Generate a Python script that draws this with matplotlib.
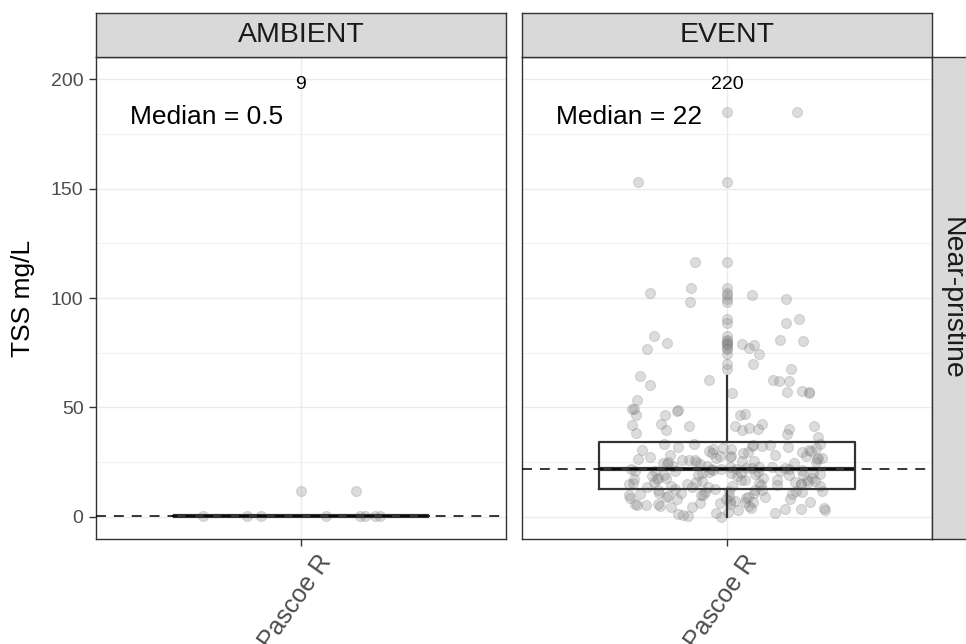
import numpy as np
import matplotlib

matplotlib.use("Agg")
import matplotlib.pyplot as plt
import matplotlib.transforms as mtransforms

plt.rcParams["font.family"] = ["Liberation Sans", "DejaVu Sans"]

facets = ["AMBIENT", "EVENT"]
site = "Pascoe R"
row_label = "Near-pristine"
y_label = "TSS mg/L"

ambient_tss = [0.5, 0.5, 12.0, 0.5, 0.5, 0.5, 0.5, 0.5, 0.5]

event_tss = [
    # lowest quarter
    0, 0.5, 1, 1.5, 2, 2.5, 3, 3, 3.5, 4,
    4, 4.5, 5, 5, 5.5, 6, 6, 6.5, 7, 7,
    7.5, 8, 8, 8.5, 9, 9, 9.5, 10, 10, 10.5,
    11, 11, 11.5, 12, 12, 12.5, 2, 5.5, 7.5, 9.5,
    3.5, 6.5, 8.5, 10.5, 11.5, 4.5, 6, 8, 10, 12,
    7, 9, 11, 12.5, 12.5,
    # second quarter
    13, 13, 13.5, 13.5, 14, 14, 14.5, 15, 15, 15.5,
    16, 16, 16.5, 17, 17, 17.5, 18, 18, 18.5, 19,
    19, 19.5, 20, 20, 20.5, 21, 21, 21.5, 22, 22,
    13.5, 14.5, 15.5, 16.5, 17.5, 18.5, 19.5, 20.5, 21.5, 14,
    15, 16, 17, 18, 19, 20, 21, 16, 18, 20,
    15, 17, 19, 21, 22,
    # third quarter
    22, 22, 22.5, 22.5, 23, 23, 23.5, 24, 24, 24.5,
    25, 25, 25.5, 26, 26, 26.5, 27, 27, 27.5, 28,
    28, 28.5, 29, 29, 29.5, 30, 30, 30.5, 31, 31,
    31.5, 32, 32, 32.5, 33, 33, 33.5, 33.5, 23.5, 25,
    26.5, 28.5, 30.5, 24.5, 27.5, 29.5, 31.5, 22.5, 23, 26,
    27, 28, 32.5, 25.5, 33.5,
    # top quarter
    64.5, 62.5, 62, 62, 62.5, 60.5, 57, 57, 57.5, 56.5,
    56.5, 53.5, 49.5, 49.5, 49, 48.5, 46.5, 46.5, 46.5, 47,
    42.5, 42.5, 42, 41.5, 41.5, 41.5, 40, 40, 40.5, 39.5,
    39.5, 38.5, 38, 36.5,
    185, 153, 116.5, 104.5, 102.5, 101.5, 99.5, 98, 90.5, 88.5,
    82.5, 81, 80.5, 79.5, 79, 78.5, 77, 76.5, 74.5, 70,
    67.5,
]

panel_data = [np.array(ambient_tss), np.array(event_tss)]

dark = "#333333"
point_rgba = (0.5, 0.5, 0.5, 0.27)

fig = plt.figure(figsize=(9.66, 6.44), dpi=100)
W, H = 966.0, 644.0
panel_bottom = (H - 539) / H
panel_height = 482 / H
panel_lefts = [96, 522]
panel_width = 410

rng = np.random.default_rng(7)

# offset (in pixels) of the rotated site label from the tick foot
label_shift = mtransforms.ScaledTranslation(16 / 100, -11 / 100, fig.dpi_scale_trans)

for i, (name, values) in enumerate(zip(facets, panel_data)):
    ax = fig.add_axes([panel_lefts[i] / W, panel_bottom, panel_width / W, panel_height])
    ax.set_xlim(0.4, 1.6)
    ax.set_ylim(-10.05, 210.05)

    ax.set_yticks([0, 50, 100, 150, 200])
    ax.set_yticks([25, 75, 125, 175], minor=True)
    ax.grid(True, which="major", color="#ebebeb", linewidth=1.0)
    ax.grid(True, which="minor", axis="y", color="#ebebeb", linewidth=0.5)
    ax.set_axisbelow(True)

    # jittered observations
    x_jit = 1 + rng.uniform(-0.29, 0.29, size=len(values))
    ax.scatter(x_jit, values, s=52, facecolor=point_rgba, edgecolor=point_rgba,
               linewidth=0.8, zorder=2)

    ax.boxplot(
        values, positions=[1], widths=0.75, whis=1.5, patch_artist=False,
        boxprops=dict(color=dark, linewidth=1.6),
        whiskerprops=dict(color=dark, linewidth=1.6),
        capprops=dict(linewidth=0),
        medianprops=dict(color=dark, linewidth=3.0),
        flierprops=dict(marker="o", markersize=7.2, markerfacecolor=point_rgba,
                        markeredgecolor=point_rgba, markeredgewidth=0.8),
        manage_ticks=False, zorder=3,
    )

    median = np.median(values)
    ax.axhline(median, color="black", linewidth=1.1, linestyle=(0, (6.5, 5.2)), zorder=4)

    ax.text(0.5, 182.5, f"Median = {median:g}", fontsize=19, ha="left", va="center",
            color="black", zorder=5)
    ax.text(1, 197.5, f"{len(values)}", fontsize=14, ha="center", va="center",
            color="black", zorder=5)

    for spine in ax.spines.values():
        spine.set_color(dark)
        spine.set_linewidth(1.0)

    ax.set_xticks([1])
    ax.set_xticklabels([])
    ax.tick_params(axis="x", length=5, width=1, color=dark)
    foot = mtransforms.blended_transform_factory(ax.transData, ax.transAxes)
    ax.text(1, 0, site, transform=foot + label_shift, rotation=55, ha="right",
            va="top", rotation_mode="anchor", fontsize=18, color="#4d4d4d",
            clip_on=False)

    ax.tick_params(axis="y", which="minor", length=0)
    if i == 0:
        ax.tick_params(axis="y", which="major", length=5, width=1, color=dark,
                       labelsize=14, labelcolor="#4d4d4d", pad=4)
    else:
        ax.tick_params(axis="y", which="major", length=0, labelleft=False)

    # facet strip on top
    strip = fig.add_axes([panel_lefts[i] / W, (H - 57) / H, panel_width / W, 44 / H])
    strip.set_facecolor("#d9d9d9")
    strip.set_xticks([])
    strip.set_yticks([])
    for spine in strip.spines.values():
        spine.set_color(dark)
        spine.set_linewidth(1.0)
    strip.text(0.5, 0.5, name, fontsize=20.5, ha="center", va="center",
               color="#1a1a1a", transform=strip.transAxes)

# row strip on the right
rstrip = fig.add_axes([932 / W, panel_bottom, 44 / W, panel_height])
rstrip.set_facecolor("#d9d9d9")
rstrip.set_xticks([])
rstrip.set_yticks([])
for spine in rstrip.spines.values():
    spine.set_color(dark)
    spine.set_linewidth(1.0)
rstrip.text(0.45, 0.5, row_label, fontsize=20.5, rotation=-90, ha="center",
            va="center", color="#1a1a1a", transform=rstrip.transAxes)

fig.text(23 / W, panel_bottom + panel_height / 2, y_label, fontsize=19,
         rotation=90, ha="center", va="center", color="black")

fig.savefig("out.png", dpi=100)
